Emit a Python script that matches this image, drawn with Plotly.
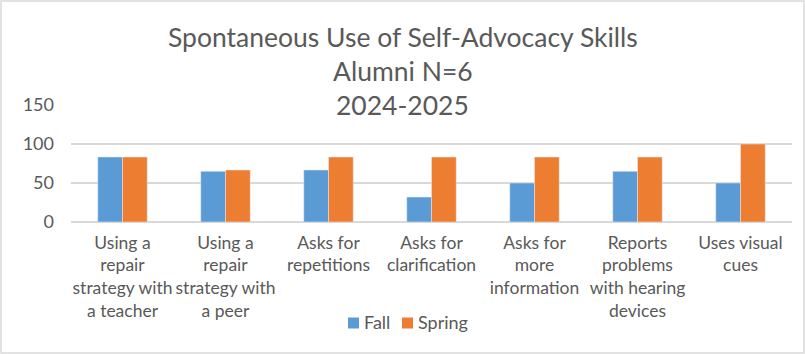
import plotly.graph_objects as go

categories = [
    "Using a<br>repair<br>strategy with<br>a teacher",
    "Using a<br>repair<br>strategy with<br>a peer",
    "Asks for<br>repetitions",
    "Asks for<br>clarification",
    "Asks for<br>more<br>information",
    "Reports<br>problems<br>with hearing<br>devices",
    "Uses visual<br>cues",
]
series_names = ["Fall", "Spring"]
fall = [83.33, 65, 66.67, 32, 50, 65, 50]
spring = [83.33, 66.67, 83.33, 83.33, 83.33, 83.33, 100]
title_lines = ["Spontaneous Use of Self-Advocacy Skills", "Alumni N=6", "2024-2025"]
y_ticks = [0, 50, 100, 150]

FONT = "Lato"
GRAY = "#595959"
COLORS = ["#5B9BD5", "#ED7D31"]

fig = go.Figure()
for name, vals, col in zip(series_names, [fall, spring], COLORS):
    fig.add_trace(go.Bar(name=name, x=categories, y=vals, marker_color=col, showlegend=False))

W, H = 805, 354
L, R, T, B = 71, 13, 105, 132
ph = H - T - B
pw = W - L - R

def py(px):
    return (H - B - px) / ph

def px_x(px):
    return (px - L) / pw

annotations = []
for line, ypix in zip(title_lines, [37, 71, 105]):
    annotations.append(dict(text=line, x=px_x(402.5), xref="paper", xanchor="center",
                            y=py(ypix), yref="paper", yanchor="middle",
                            showarrow=False, font=dict(family=FONT, size=26.5, color=GRAY)))

shapes = [dict(type="rect", xref="paper", yref="paper",
               x0=px_x(1), x1=px_x(804), y0=py(353), y1=py(1),
               line=dict(color="#d9d9d9", width=1.5), layer="below")]

# custom legend (square swatch + label) matching the compact Excel legend
for name, col, mx in zip(series_names, COLORS, [348, 402]):
    shapes.append(dict(type="rect", xref="paper", yref="paper",
                       x0=px_x(mx), x1=px_x(mx + 11), y0=py(328.5), y1=py(317.5),
                       fillcolor=col, line=dict(width=0)))
    annotations.append(dict(text=name, x=px_x(mx + 14), xref="paper", xanchor="left",
                            y=py(322), yref="paper", yanchor="middle", showarrow=False,
                            font=dict(family=FONT, size=18, color=GRAY)))

fig.update_layout(
    width=W, height=H,
    margin=dict(l=L, r=R, t=T, b=B),
    paper_bgcolor="white", plot_bgcolor="white",
    barmode="group", bargap=0.52, bargroupgap=0,
    font=dict(family=FONT, size=18, color=GRAY),
    annotations=annotations,
    shapes=shapes,
    showlegend=False,
)
fig.update_xaxes(showgrid=False, showline=False, ticks="", tickangle=0, ticklabelstandoff=8,
                 tickfont=dict(family=FONT, size=17.5, color=GRAY))
fig.update_yaxes(range=[0, 150], tickvals=y_ticks, showgrid=True, gridcolor="#d9d9d9",
                 gridwidth=1.5, zeroline=True, zerolinecolor="#d9d9d9", zerolinewidth=1.5,
                 showline=False, ticks="", ticklabelstandoff=16,
                 tickfont=dict(family=FONT, size=18, color=GRAY))

fig.write_html("out.html")
